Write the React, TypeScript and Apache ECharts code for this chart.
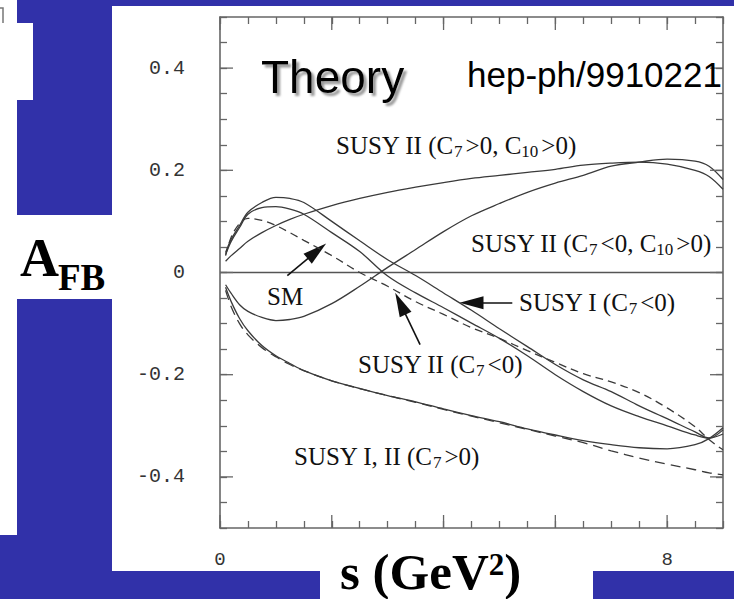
import React, { useEffect, useRef } from "react";
import * as echarts from "echarts";

// s (GeV^2) sample points
const S_GRID = [0.1, 0.2, 0.35, 0.5, 0.75, 1, 1.25, 1.5, 2, 2.5, 3, 3.5, 4, 4.5, 5, 5.5, 6, 6.5, 7, 7.5, 8, 8.5, 8.75, 9];

// A_FB curves
const SUSY_I_C7NEG = [0.039, 0.065, 0.092, 0.118, 0.137, 0.147, 0.145, 0.137, 0.1, 0.062, 0.025, -0.006, -0.04, -0.074, -0.11, -0.145, -0.18, -0.21, -0.233, -0.261, -0.286, -0.312, -0.324, -0.308];
const SUSY_II_C7NEG = [0.035, 0.061, 0.088, 0.114, 0.127, 0.129, 0.124, 0.114, 0.078, 0.041, -0.007, -0.04, -0.069, -0.099, -0.129, -0.163, -0.2, -0.233, -0.261, -0.282, -0.3, -0.318, -0.324, -0.316];
const SM = [0.033, 0.069, 0.096, 0.106, 0.102, 0.092, 0.078, 0.063, 0.033, 0.0, -0.027, -0.057, -0.082, -0.108, -0.129, -0.153, -0.176, -0.198, -0.214, -0.235, -0.265, -0.302, -0.327, -0.347];
const SUSY_II_C7POS_C10POS = [0.022, 0.033, 0.047, 0.061, 0.078, 0.092, 0.104, 0.114, 0.131, 0.145, 0.157, 0.167, 0.176, 0.184, 0.19, 0.196, 0.202, 0.21, 0.214, 0.216, 0.212, 0.2, 0.188, 0.163];
const SUSY_II_C7NEG_C10POS = [-0.024, -0.041, -0.063, -0.076, -0.088, -0.094, -0.092, -0.086, -0.061, -0.027, 0.01, 0.045, 0.08, 0.111, 0.135, 0.157, 0.175, 0.19, 0.208, 0.216, 0.222, 0.218, 0.208, 0.182];
const SUSY_I_II_C7POS = [-0.029, -0.057, -0.09, -0.114, -0.143, -0.163, -0.178, -0.192, -0.212, -0.227, -0.241, -0.253, -0.267, -0.28, -0.292, -0.306, -0.318, -0.329, -0.337, -0.343, -0.345, -0.337, -0.325, -0.304];
const SUSY_I_II_C7POS_DASHED = [-0.035, -0.067, -0.1, -0.122, -0.147, -0.165, -0.18, -0.192, -0.212, -0.227, -0.241, -0.254, -0.268, -0.281, -0.294, -0.307, -0.32, -0.333, -0.349, -0.363, -0.375, -0.386, -0.392, -0.396];

// axes
const X_TICK_LABELS = [0, 8];
const X_MAJOR_TICKS = [0, 2, 4, 6, 8];
const Y_TICK_LABELS = [-0.4, -0.2, 0, 0.2, 0.4];
const Y_MAJOR_TICKS = [-0.4, -0.2, 0, 0.2, 0.4];

// annotation arrows: [tail s, tail A, head s, head A]
const ARROWS = [
  [1.205, -0.006, 1.734, 0.042],
  [5.23, -0.0594, 4.5, -0.0594],
  [3.58, -0.141, 3.228, -0.061],
];

const SERIF = '"Liberation Serif", "Times New Roman", serif';
const SANS = '"Liberation Sans", Arial, sans-serif';
const MONO = '"Liberation Mono", "Courier New", monospace';
const INK = "#111";
const CURVE = "#3a3a3a";
const AXIS = "#666";

const pairs = (ys: number[]) => S_GRID.map((s, i) => [s, ys[i]]);

const richSub = {
  n: { fontFamily: SERIF, fontSize: 25, lineHeight: 30, verticalAlign: "middle", fill: INK },
  s: { fontFamily: SERIF, fontSize: 17, lineHeight: 15, verticalAlign: "bottom", fill: INK, padding: [0, 3, 0, 0] },
};

function label(text: string, x: number, y: number) {
  return {
    type: "text",
    x,
    y,
    z: 20,
    silent: true,
    style: { text, rich: richSub, align: "left", verticalAlign: "middle", fill: INK },
  };
}

export default function App() {
  const ref = useRef<HTMLDivElement>(null);

  useEffect(() => {
    if (!ref.current) return;
    const chart = echarts.init(ref.current, undefined, { renderer: "svg" });

    const curveSeries = (name: string, ys: number[], type: any) => ({
      name,
      type: "line",
      data: pairs(ys),
      smooth: 0.35,
      symbol: "none",
      lineStyle: { color: CURVE, width: 1.3, type },
      z: 5,
    });

    const axisCommon = {
      type: "value",
      splitLine: { show: false },
      axisLine: { show: true, onZero: false, lineStyle: { color: AXIS, width: 1.6 } },
      axisTick: { show: true, inside: true, length: 7, lineStyle: { color: AXIS, width: 1.3 } },
    };

    const option: any = {
      animation: false,
      backgroundColor: "#3131a9",
      grid: { left: 220, top: 17, right: 11, bottom: 71 },
      xAxis: [
        {
          ...axisCommon,
          position: "bottom",
          min: 0,
          max: 9,
          interval: 0.5,
          axisLabel: {
            margin: 22,
            fontFamily: MONO,
            fontSize: 19,
            color: "#333",
            formatter: (v: number) => {
              const t = X_TICK_LABELS.find((t) => Math.abs(t - v) < 1e-6);
              return t === undefined ? "" : String(t);
            },
          },
        },
        { ...axisCommon, position: "top", min: 0, max: 9, interval: 0.5, axisLabel: { show: false } },
      ],
      yAxis: [
        {
          ...axisCommon,
          position: "left",
          min: -0.5,
          max: 0.5,
          interval: 0.05,
          axisLabel: {
            margin: 35,
            fontFamily: MONO,
            fontSize: 20,
            color: "#333",
            formatter: (v: number) => {
              const t = Y_TICK_LABELS.find((t) => Math.abs(t - v) < 1e-6);
              return t === undefined ? "" : t === 0 ? "0" : t.toFixed(1);
            },
          },
        },
        { ...axisCommon, position: "right", min: -0.5, max: 0.5, interval: 0.05, axisLabel: { show: false } },
      ],
      graphic: [
        // white panels of the slide
        { type: "rect", z: -1, silent: true, shape: { x: 112, y: 6, width: 622, height: 565 }, style: { fill: "#fff" } },
        { type: "rect", z: -1, silent: true, shape: { x: 320, y: 560, width: 273, height: 39 }, style: { fill: "#fff" } },
        { type: "rect", z: -1, silent: true, shape: { x: 0, y: 0, width: 17, height: 535 }, style: { fill: "#fff" } },
        { type: "rect", z: -1, silent: true, shape: { x: 17, y: 23, width: 16, height: 77 }, style: { fill: "#fff" } },
        { type: "rect", z: -1, silent: true, shape: { x: 17, y: 215, width: 95, height: 84 }, style: { fill: "#fff" } },
        { type: "polyline", z: -1, silent: true, shape: { points: [[0, 8], [3, 8], [3, 23]] }, style: { stroke: "#777", lineWidth: 1.5, fill: "none" } },
        // titles
        {
          type: "text",
          x: 261,
          y: 77,
          z: 20,
          silent: true,
          style: {
            text: "Theory",
            font: `46px ${SANS}`,
            fill: "#000",
            verticalAlign: "middle",
            textShadowColor: "rgba(120,120,120,0.75)",
            textShadowBlur: 2,
            textShadowOffsetX: 3,
            textShadowOffsetY: 3,
          },
        },
        { type: "text", x: 467, y: 74, z: 20, silent: true, style: { text: "hep-ph/9910221", font: `35px ${SANS}`, fill: "#000", verticalAlign: "middle" } },
        // curve labels
        label("{n|SUSY II (C}{s|7}{n|>0, C}{s|10}{n|>0)}", 336, 145),
        label("{n|SUSY II (C}{s|7}{n|<0, C}{s|10}{n|>0)}", 471, 243),
        label("{n|SM}", 267, 296),
        label("{n|SUSY I (C}{s|7}{n|<0)}", 519, 302),
        label("{n|SUSY II (C}{s|7}{n|<0)}", 358, 364),
        label("{n|SUSY I, II (C}{s|7}{n|>0)}", 294, 456),
        // axis titles
        { type: "text", x: 20, y: 258, z: 20, silent: true, style: { text: "A", font: `bold 54px ${SERIF}`, fill: "#000", verticalAlign: "middle" } },
        { type: "text", x: 58, y: 277, z: 20, silent: true, style: { text: "FB", font: `bold 37px ${SERIF}`, fill: "#000", verticalAlign: "middle" } },
        {
          type: "text",
          x: 340,
          y: 572,
          z: 20,
          silent: true,
          style: {
            text: "{b|s (GeV}{p|2}{b|)}",
            verticalAlign: "middle",
            rich: {
              b: { fontFamily: SERIF, fontWeight: "bold", fontSize: 51, lineHeight: 46, verticalAlign: "middle", fill: "#000" },
              p: { fontFamily: SERIF, fontWeight: "bold", fontSize: 31, lineHeight: 33, verticalAlign: "top", fill: "#000" },
            },
          },
        },
      ],
      series: [
        {
          name: "zero",
          type: "line",
          data: [[0, 0], [9, 0]],
          symbol: "none",
          lineStyle: { color: "#555", width: 1.3 },
          z: 4,
          markLine: {
            silent: true,
            symbol: ["none", "triangle"],
            symbolSize: [13, 24],
            label: { show: false },
            lineStyle: { color: INK, width: 1.6, type: "solid" },
            data: ARROWS.map((a) => [{ coord: [a[0], a[1]] }, { coord: [a[2], a[3]] }]),
          },
        },
        curveSeries("SUSY I (C7<0)", SUSY_I_C7NEG, "solid"),
        curveSeries("SUSY II (C7<0)", SUSY_II_C7NEG, "solid"),
        curveSeries("SM", SM, [8, 5]),
        curveSeries("SUSY II (C7>0, C10>0)", SUSY_II_C7POS_C10POS, "solid"),
        curveSeries("SUSY II (C7<0, C10>0)", SUSY_II_C7NEG_C10POS, "solid"),
        curveSeries("SUSY I, II (C7>0)", SUSY_I_II_C7POS, "solid"),
        curveSeries("SUSY I, II (C7>0) dashed", SUSY_I_II_C7POS_DASHED, [10, 6]),
        {
          name: "xMajorTicks",
          type: "custom",
          silent: true,
          clip: false,
          z: 6,
          data: X_MAJOR_TICKS.map((v) => [v, 0]),
          renderItem: (_p: any, api: any) => {
            const b = api.coord([api.value(0), -0.5]);
            const t = api.coord([api.value(0), 0.5]);
            const st = { stroke: AXIS, lineWidth: 1.3 };
            return {
              type: "group",
              children: [
                { type: "line", shape: { x1: b[0], y1: b[1], x2: b[0], y2: b[1] - 13 }, style: st },
                { type: "line", shape: { x1: t[0], y1: t[1], x2: t[0], y2: t[1] + 13 }, style: st },
              ],
            };
          },
        },
        {
          name: "yMajorTicks",
          type: "custom",
          silent: true,
          clip: false,
          z: 6,
          data: Y_MAJOR_TICKS.map((v) => [0, v]),
          renderItem: (_p: any, api: any) => {
            const l = api.coord([0, api.value(1)]);
            const r = api.coord([9, api.value(1)]);
            const st = { stroke: AXIS, lineWidth: 1.3 };
            return {
              type: "group",
              children: [
                { type: "line", shape: { x1: l[0], y1: l[1], x2: l[0] + 13, y2: l[1] }, style: st },
                { type: "line", shape: { x1: r[0], y1: r[1], x2: r[0] - 13, y2: r[1] }, style: st },
              ],
            };
          },
        },
      ],
    };

    chart.setOption(option);
    return () => chart.dispose();
  }, []);

  return (
    <div
      ref={ref}
      style={{ position: "fixed", left: 0, top: 0, width: 734, height: 599 }}
    />
  );
}
